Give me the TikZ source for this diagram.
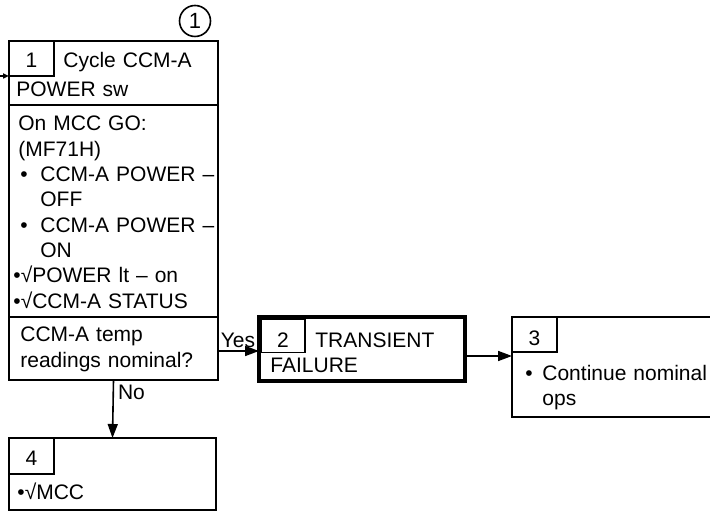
\documentclass[tikz,border=0pt]{standalone}
\usepackage{fontspec}
\setmainfont{Liberation Sans}
\usetikzlibrary{arrows.meta}

\tikzset{
  box/.style={draw,line width=.8pt,inner sep=0pt,outer sep=0pt},
  numbox/.style={box,minimum width=22.5pt,minimum height=17.5pt,text depth=0pt},
  txt/.style={anchor=base west,inner sep=0pt,align=left,text width=120pt},
  flow/.style={line width=.8pt,-{Triangle[length=7pt,width=5pt]}},
}

\begin{document}
\begin{tikzpicture}[x=.5pt,y=-.5pt,font=\fontsize{10.5}{12.65}\selectfont]
\useasboundingbox (0,0) rectangle (710,512);

% step 1
\node[box,minimum width=104.5pt,minimum height=169.5pt] (box1) at (113.5,210.5) {};
\node[numbox,text height=9.5pt,anchor=north west] (n1) at (box1.north west) {1};
\node[box,circle,minimum size=15.5pt,font=\fontsize{11}{12}\selectfont] (c1) at (195,21) {1};
\draw[line width=.8pt] (box1.west |- 0,105) -- (box1.east |- 0,105);
\draw[line width=.8pt] (box1.west |- 0,317) -- (box1.east |- 0,317);
\node[txt] (t1a) at (63,68) {Cycle CCM-A};
\node[txt] (t1b) at (16,97) {POWER sw};
\node[txt] (t1c) at (18,131) {On MCC GO:\\
(MF71H)\\
\makebox[11pt][l]{\hspace{1pt}•}CCM-A POWER –\\
\hspace*{11pt}OFF\\
\makebox[11pt][l]{\hspace{1pt}•}CCM-A POWER –\\
\hspace*{11pt}ON\\
\hspace*{-2.5pt}•√POWER lt – on\\
\hspace*{-2.5pt}•√CCM-A STATUS};
\node[txt] (t1d) at (20,342) {CCM-A temp\\readings nominal?};

% step 2
\node[box,line width=2pt,minimum width=103pt,minimum height=32pt] (box2) at (362,349) {};
\node[numbox,text height=12pt,minimum width=22pt,minimum height=16.5pt] (n2) at (283,336) {2};
\node[txt] (t2a) at (315,348) {TRANSIENT};
\node[txt] (t2b) at (270,372) {FAILURE};

% step 3
\node[box,minimum width=106.5pt,minimum height=50pt] (box3) at (618.5,367) {};
\node[numbox,text height=10.5pt,anchor=north west] (n3) at (box3.north west) {3};
\node[txt] (t3) at (525,380) {\makebox[8.5pt][l]{•}Continue nominal\\\hspace*{8.5pt}ops};

% step 4
\node[box,minimum width=103.5pt,minimum height=36pt] (box4) at (112.5,474) {};
\node[numbox,text height=9pt,minimum height=18pt,anchor=north west] (n4) at (box4.north west) {4};
\node[txt] (t4) at (17,499) {•√MCC};

% connectors
\coordinate (entry) at (0,76);
\draw[line width=.8pt,-{Triangle[length=3pt,width=2.5pt]}] (entry) -- (entry -| box1.west);
\draw[flow] (box1.east |- 0,351) -- (box2.west |- 0,351)
  node[pos=0,anchor=south west,inner sep=1pt] {Yes};
\draw[flow] ([yshift=-3.5pt]box2.east) -- ([yshift=-3.5pt]box2.east -| box3.west);
\draw[flow] (box1.south) -- (box4.north)
  node[pos=.22,anchor=west,inner sep=2pt] {No};
\end{tikzpicture}
\end{document}
